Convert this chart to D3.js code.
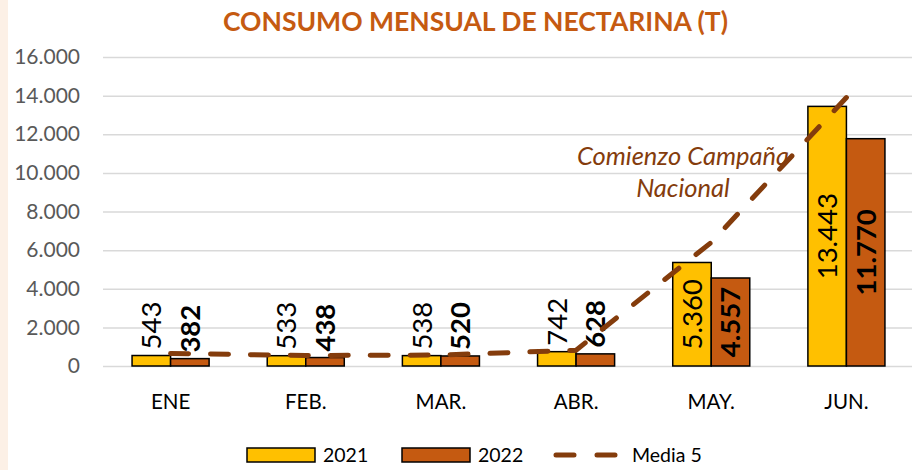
<!DOCTYPE html>
<html lang="es">
    <head>
        <meta charset="utf-8">
        <title>Consumo mensual de nectarina</title>
        <script src="https://d3js.org/d3.v7.min.js"></script>
        <style type="text/css">
            body { margin: 0; background: #ffffff; }
            svg { display: block; font-family: Lato, sans-serif; }

            .grid line { stroke: #d9d9d9; stroke-width: 1.5px; }
            .grid text { font-size: 21px; fill: #595959; font-family: Lato, sans-serif; }
            .xaxis text { font-size: 20.5px; fill: #000; font-family: Lato, sans-serif; }

            .media {
                fill: none;
                stroke: #843c0c;
                stroke-width: 5px;
                stroke-linecap: round;
            }
        </style>
    </head>
    <body>
        <script type="text/javascript">

            //data
            const months = ["ENE", "FEB.", "MAR.", "ABR.", "MAY.", "JUN."];
            const series = ["2021", "2022"];
            const values2021 = [543, 533, 538, 742, 5360, 13443];
            const values2022 = [382, 438, 520, 628, 4557, 11770];
            const media5 = [650, 545, 565, 820, 6400, 13900];
            const yTicks = [0, 2000, 4000, 6000, 8000, 10000, 12000, 14000, 16000];
            const colors = ["#ffc000", "#c55a11"];
            const lineColor = "#843c0c";

            const w = 914;
            const h = 470;
            const plotLeft = 103;
            const plotRight = 914;
            const plotTop = 57;
            const plotBottom = 366;

            //spanish number format 13.443
            const fmt = d3.formatLocale({decimal: ",", thousands: ".", grouping: [3], currency: ["", "€"]}).format(",");

            const svg = d3.select("body")
                          .append("svg")
                          .attr("width", w)
                          .attr("height", h);

            //left peach strip
            svg.append("rect")
               .attr("x", 0).attr("y", 0)
               .attr("width", 8).attr("height", h)
               .attr("fill", "#fcf0e6");

            //scales
            const xScale = d3.scaleBand()
                             .domain(months)
                             .range([plotLeft, plotRight])
                             .paddingInner(0.43)
                             .paddingOuter(0.215);

            const xInner = d3.scaleBand()
                             .domain(series)
                             .range([0, xScale.bandwidth()]);

            const yScale = d3.scaleLinear()
                             .domain([0, 16000])
                             .range([plotBottom, plotTop]);

            //gridlines + y labels
            const leftAxis = d3.axisLeft(yScale)
                               .tickValues(yTicks)
                               .tickFormat(fmt)
                               .tickSizeInner(-(plotRight - plotLeft - 2))
                               .tickSizeOuter(0)
                               .tickPadding(23);

            svg.append("g")
               .attr("class", "grid")
               .attr("transform", "translate(" + plotLeft + ",0)")
               .call(leftAxis)
               .call(g => g.select(".domain").remove());

            //x axis labels
            const bottomAxis = d3.axisBottom(xScale)
                                 .tickSize(0)
                                 .tickPadding(28);

            svg.append("g")
               .attr("class", "xaxis")
               .attr("transform", "translate(0," + plotBottom + ")")
               .call(bottomAxis)
               .call(g => g.select(".domain").remove());

            //bars
            const rows = months.map((m, i) => ({month: m, vals: [values2021[i], values2022[i]]}));

            const groups = svg.selectAll(".month")
                              .data(rows)
                              .enter()
                              .append("g")
                              .attr("transform", d => "translate(" + xScale(d.month) + ",0)");

            groups.selectAll("rect")
                  .data(d => d.vals.map((v, j) => ({v: v, s: series[j], j: j})))
                  .enter()
                  .append("rect")
                  .attr("x", d => xInner(d.s))
                  .attr("y", d => yScale(d.v))
                  .attr("width", xInner.bandwidth())
                  .attr("height", d => plotBottom - yScale(d.v))
                  .attr("fill", d => colors[d.j])
                  .attr("stroke", "#000")
                  .attr("stroke-width", 1.5);

            //media 5 line
            const line = d3.line()
                           .x((d, i) => xScale(months[i]) + xScale.bandwidth() / 2)
                           .y(d => yScale(d));

            const mediaPath = svg.append("path")
                                 .datum(media5)
                                 .attr("class", "media")
                                 .attr("d", line);

            //stretch the gap a little so the line starts and ends on a dash
            const dash = 18;
            const len = mediaPath.node().getTotalLength();
            const n = Math.round((len - dash) / 41);
            mediaPath.attr("stroke-dasharray", dash + "," + ((len - dash) / n - dash));

            //data labels, rotated; inside (centered) for tall bars, above for short ones
            groups.selectAll("text.lbl")
                  .data(d => d.vals.map((v, j) => ({v: v, s: series[j], j: j})))
                  .enter()
                  .append("text")
                  .attr("class", "lbl")
                  .each(function(d) {
                      const cx = xInner(d.s) + xInner.bandwidth() / 2;
                      const barH = plotBottom - yScale(d.v);
                      const inside = barH > 60;
                      const cy = inside ? (yScale(d.v) + plotBottom) / 2 : yScale(d.v) - 6;
                      d3.select(this)
                        .attr("transform", "translate(" + cx + "," + cy + ") rotate(-90)")
                        .attr("text-anchor", inside ? "middle" : "start")
                        .attr("dy", "0.36em");
                  })
                  .attr("font-size", "27.5px")
                  .attr("font-weight", d => d.j === 1 ? "bold" : "normal")
                  .attr("fill", "#000")
                  .text(d => fmt(d.v));

            //title
            svg.append("text")
               .attr("x", 475.5)
               .attr("y", 31)
               .attr("text-anchor", "middle")
               .attr("font-size", "26.5px")
               .attr("font-weight", "bold")
               .attr("fill", "#c55a11")
               .text("CONSUMO MENSUAL DE NECTARINA (T)");

            //annotation
            const note = svg.append("text")
                            .attr("text-anchor", "middle")
                            .attr("font-size", "25.5px")
                            .attr("font-style", "italic")
                            .attr("fill", lineColor);
            note.append("tspan").attr("x", 683).attr("y", 165).text("Comienzo Campaña");
            note.append("tspan").attr("x", 683).attr("y", 197).text("Nacional");

            //legend
            const legY = 455;
            const legend = svg.append("g").attr("font-size", "19.5px");
            const legX = [247, 402];

            series.forEach((s, j) => {
                legend.append("rect")
                      .attr("x", legX[j]).attr("y", legY - 7)
                      .attr("width", 68).attr("height", 14)
                      .attr("fill", colors[j])
                      .attr("stroke", "#000")
                      .attr("stroke-width", 1.5);
                legend.append("text")
                      .attr("x", legX[j] + 76).attr("y", legY)
                      .attr("dy", "0.36em")
                      .attr("fill", "#000")
                      .text(s);
            });

            legend.append("line")
                  .attr("class", "media")
                  .attr("stroke-dasharray", "18,23")
                  .attr("x1", 556).attr("x2", 620)
                  .attr("y1", legY).attr("y2", legY);
            legend.append("text")
                  .attr("x", 632).attr("y", legY)
                  .attr("dy", "0.36em")
                  .attr("fill", "#000")
                  .text("Media 5");

        </script>
    </body>
</html>
